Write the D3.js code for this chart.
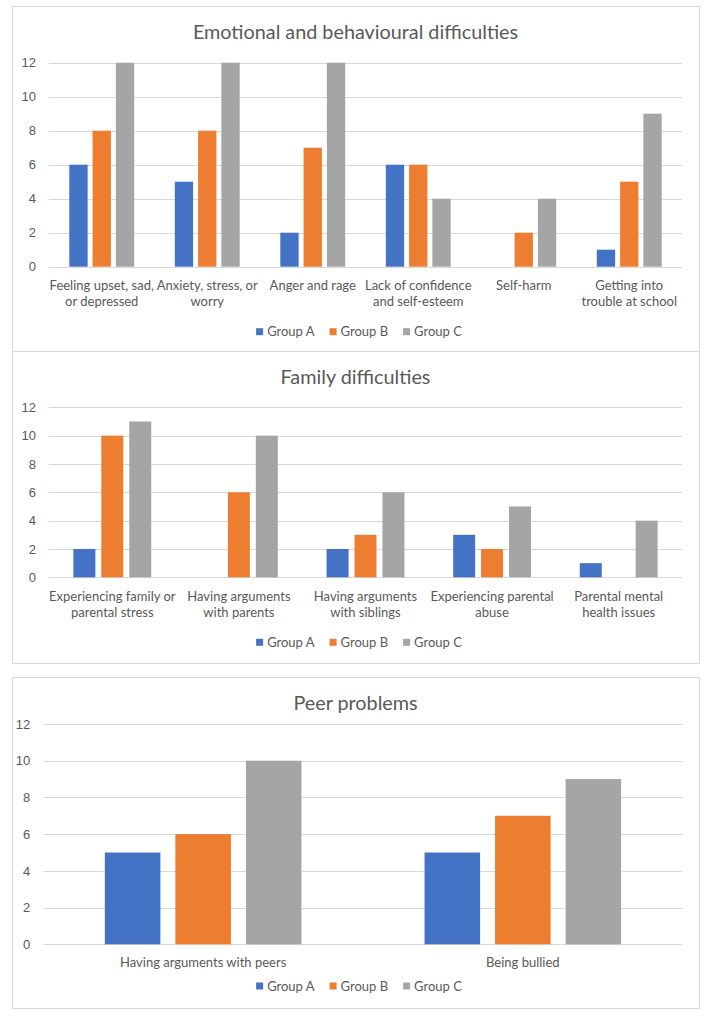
<!DOCTYPE html>
<html>
<head>
<meta charset="utf-8">
<script src="https://cdn.jsdelivr.net/npm/d3@7"></script>
<style>
  body { margin: 0; background: #fff; }
  svg { display: block; font-family: Lato, "Open Sans", sans-serif; }
</style>
</head>
<body>
<svg id="chart" width="720" height="1016"></svg>
<script>
// series shared by all three charts
const groups = ['Group A', 'Group B', 'Group C'];
const colors = ['#4472C4', '#ED7D31', '#A5A5A5'];
const yTicks = [0, 2, 4, 6, 8, 10, 12];

// Emotional and behavioural difficulties
const emoCategories = [
  'Feeling upset, sad,\nor depressed',
  'Anxiety, stress, or\nworry',
  'Anger and rage',
  'Lack of confidence\nand self-esteem',
  'Self-harm',
  'Getting into\ntrouble at school'
];
const emoA = [6, 5, 2, 6, null, 1];
const emoB = [8, 8, 7, 6, 2, 5];
const emoC = [12, 12, 12, 4, 4, 9];

// Family difficulties
const famCategories = [
  'Experiencing family or\nparental stress',
  'Having arguments\nwith parents',
  'Having arguments\nwith siblings',
  'Experiencing parental\nabuse',
  'Parental mental\nhealth issues'
];
const famA = [2, null, 2, 3, 1];
const famB = [10, 6, 3, 2, null];
const famC = [11, 10, 6, 5, 4];

// Peer problems
const peerCategories = ['Having arguments with peers', 'Being bullied'];
const peerA = [5, 5];
const peerB = [6, 7];
const peerC = [10, 9];

const svg = d3.select('#chart');
const TEXT = '#595959';
const GRID = '#d9d9d9';

function drawPanel(cfg) {
  const { box, title, categories, series, plot, titleY, labelY, legendY } = cfg;
  const g = svg.append('g');

  g.append('rect')
    .attr('x', box.x + 0.5).attr('y', box.y + 0.5)
    .attr('width', box.w).attr('height', box.h)
    .attr('fill', '#fff').attr('stroke', GRID).attr('stroke-width', 1);

  g.append('text')
    .attr('x', box.x + box.w / 2).attr('y', titleY)
    .attr('dy', '0.35em')
    .attr('text-anchor', 'middle')
    .attr('font-size', 19.8)
    .attr('fill', TEXT)
    .text(title);

  const y = d3.scaleLinear().domain([0, 12]).range([plot.bottom, plot.top]);
  const x0 = d3.scaleBand().domain(categories)
    .range([plot.left, plot.right])
    .paddingInner(0.385).paddingOuter(0.1925);
  const x1 = d3.scaleBand().domain(groups)
    .range([0, x0.bandwidth()])
    .paddingInner(0.2126);

  // gridlines
  g.append('g').selectAll('line')
    .data(yTicks)
    .join('line')
    .attr('x1', plot.left).attr('x2', plot.right)
    .attr('y1', d => Math.round(y(d)) + 0.5).attr('y2', d => Math.round(y(d)) + 0.5)
    .attr('stroke', GRID).attr('stroke-width', 1);

  // y axis labels
  const yAxis = d3.axisLeft(y).tickValues(yTicks).tickSize(0).tickPadding(13);
  const ya = g.append('g').attr('transform', `translate(${plot.left},0)`).call(yAxis);
  ya.select('.domain').remove();
  ya.selectAll('text').attr('font-size', 13).attr('fill', TEXT).attr('font-family', null);

  // bars
  const rows = categories.map((c, i) => ({ cat: c, vals: series.map(s => s[i]) }));
  g.append('g').selectAll('g')
    .data(rows)
    .join('g')
    .attr('transform', d => `translate(${x0(d.cat)},0)`)
    .selectAll('rect')
    .data(d => d.vals.map((v, j) => ({ group: groups[j], v, color: colors[j] })).filter(d => d.v != null))
    .join('rect')
    .attr('x', d => x1(d.group))
    .attr('width', x1.bandwidth())
    .attr('y', d => y(d.v))
    .attr('height', d => y(0) - y(d.v))
    .attr('fill', d => d.color);

  // category labels
  const labels = g.append('g').selectAll('text')
    .data(categories)
    .join('text')
    .attr('x', d => x0(d) + x0.bandwidth() / 2)
    .attr('y', labelY)
    .attr('text-anchor', 'middle')
    .attr('font-size', 13)
    .attr('fill', TEXT);
  labels.selectAll('tspan')
    .data(d => d.split('\n'))
    .join('tspan')
    .attr('x', function () { return d3.select(this.parentNode).attr('x'); })
    .attr('dy', (d, i) => i === 0 ? '0.35em' : 16)
    .text(d => d);

  // legend
  const lg = g.append('g');
  const items = lg.selectAll('g')
    .data(groups)
    .join('g');
  items.append('rect')
    .attr('width', 7).attr('height', 7)
    .attr('y', legendY - 3.5)
    .attr('fill', (d, i) => colors[i]);
  items.append('text')
    .attr('x', 11).attr('y', legendY)
    .attr('dy', '0.35em')
    .attr('font-size', 13)
    .attr('fill', TEXT)
    .text(d => d);
  let cx = 0;
  items.each(function () {
    d3.select(this).attr('transform', `translate(${cx},0)`);
    cx += 11 + this.querySelector('text').getComputedTextLength() + 15;
  });
  const total = cx - 15;
  lg.attr('transform', `translate(${359 - total / 2},0)`);
}

drawPanel({
  box: { x: 12, y: 6, w: 687, h: 345 },
  title: 'Emotional and behavioural difficulties',
  categories: emoCategories,
  series: [emoA, emoB, emoC],
  plot: { left: 49, right: 682, top: 62.7, bottom: 266.7 },
  titleY: 32, labelY: 285, legendY: 331.7
});

drawPanel({
  box: { x: 12, y: 351, w: 687, h: 312 },
  title: 'Family difficulties',
  categories: famCategories,
  series: [famA, famB, famC],
  plot: { left: 49, right: 682, top: 407.3, bottom: 577.3 },
  titleY: 376.7, labelY: 596, legendY: 642.3
});

drawPanel({
  box: { x: 12, y: 677, w: 687, h: 331 },
  title: 'Peer problems',
  categories: peerCategories,
  series: [peerA, peerB, peerC],
  plot: { left: 43.3, right: 682.7, top: 724, bottom: 944.3 },
  titleY: 703.3, labelY: 962.7, legendY: 986
});
</script>
</body>
</html>
